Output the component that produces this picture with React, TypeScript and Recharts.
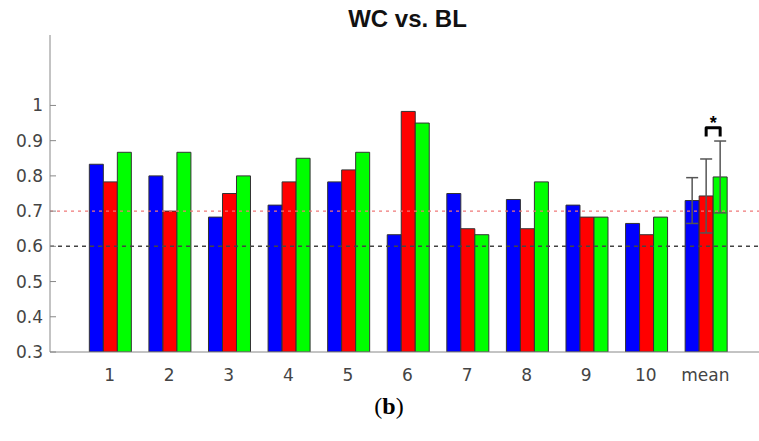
import { BarChart, Bar, XAxis, YAxis, ReferenceLine, ErrorBar, LabelList } from 'recharts'

const categories = ['1', '2', '3', '4', '5', '6', '7', '8', '9', '10', 'mean']
const blueValues = [0.833, 0.8, 0.683, 0.717, 0.783, 0.633, 0.75, 0.733, 0.717, 0.665, 0.73]
const redValues = [0.783, 0.7, 0.75, 0.783, 0.817, 0.983, 0.65, 0.65, 0.683, 0.633, 0.743]
const greenValues = [0.867, 0.867, 0.8, 0.85, 0.867, 0.95, 0.633, 0.783, 0.683, 0.683, 0.797]
const blueErr = [null, null, null, null, null, null, null, null, null, null, 0.065]
const redErr = [null, null, null, null, null, null, null, null, null, null, 0.105]
const greenErr = [null, null, null, null, null, null, null, null, null, null, 0.102]
const yTicks = [0.3, 0.4, 0.5, 0.6, 0.7, 0.8, 0.9, 1]

const Y_MIN = 0.3
const Y_MAX = 1.2
const BRACKET_TOP = 0.937
const BRACKET_FOOT = 0.912

const data = categories.map((name, i) => ({
  name,
  blue: blueValues[i],
  red: redValues[i],
  green: greenValues[i],
  blueErr: blueErr[i],
  redErr: redErr[i],
  greenErr: greenErr[i]
}))

const tickFont = { fontFamily: 'DejaVu Sans', fontSize: 17, fill: '#444' }

// significance bracket between red and green of the mean group
function SigBracket(props: any) {
  const { x, y, width, height, index } = props
  if (index !== categories.length - 1) return null
  const v = redValues[index]
  const perUnit = height / (v - Y_MIN)
  const base = y + height
  const toPx = (val: number) => base - (val - Y_MIN) * perUnit
  const x1 = x + width / 2
  const x2 = x + width * 1.5
  const top = toPx(BRACKET_TOP)
  const foot = toPx(BRACKET_FOOT)
  return (
    <g>
      <path
        d={`M${x1},${foot} L${x1},${top} L${x2},${top} L${x2},${foot}`}
        fill="none"
        stroke="#000"
        strokeWidth={3}
        strokeLinejoin="round"
      />
      <text
        x={(x1 + x2) / 2}
        y={top + 1}
        textAnchor="middle"
        fontFamily="Liberation Sans"
        fontWeight="bold"
        fontSize={18}
        fill="#000"
      >
        *
      </text>
    </g>
  )
}

export default function App() {
  return (
    <div style={{ position: 'absolute', left: 0, top: 0, width: 759, height: 441, overflow: 'hidden', background: '#fff' }}>
      <div
        style={{
          position: 'absolute',
          left: 0,
          width: 815,
          top: 5,
          textAlign: 'center',
          fontFamily: 'Liberation Sans',
          fontWeight: 'bold',
          fontSize: 24,
          color: '#111'
        }}
      >
        WC vs. BL
      </div>
      <BarChart
        width={770}
        height={441}
        data={data}
        margin={{ top: 35, right: 5, bottom: 0, left: 0 }}
        barCategoryGap="16%"
        barGap={0}
      >
        <XAxis
          dataKey="name"
          xAxisId="top"
          orientation="top"
          height={0}
          padding={{ left: 29.8, right: 29.8 }}
          axisLine={{ stroke: '#888' }}
          tickLine={{ stroke: '#888' }}
          tickSize={-6}
          tick={() => <g />}
        />
        <XAxis
          dataKey="name"
          height={89}
          padding={{ left: 29.8, right: 29.8 }}
          axisLine={{ stroke: '#888' }}
          tickLine={false}
          tickMargin={11}
          tick={tickFont}
          interval={0}
        />
        <YAxis
          width={50}
          domain={[Y_MIN, Y_MAX]}
          ticks={yTicks}
          allowDataOverflow
          axisLine={{ stroke: '#888' }}
          tickLine={{ stroke: '#888' }}
          tickSize={-6}
          tickMargin={13}
          tick={tickFont}
        />
        <Bar dataKey="blue" fill="#0000ff" stroke="#333" strokeWidth={1} isAnimationActive={false}>
          <ErrorBar dataKey="blueErr" width={6} stroke="#555" strokeWidth={1.5} />
        </Bar>
        <Bar dataKey="red" fill="#ff0000" stroke="#333" strokeWidth={1} isAnimationActive={false}>
          <ErrorBar dataKey="redErr" width={6} stroke="#555" strokeWidth={1.5} />
          <LabelList dataKey="red" content={SigBracket} />
        </Bar>
        <Bar dataKey="green" fill="#00ff00" stroke="#333" strokeWidth={1} isAnimationActive={false}>
          <ErrorBar dataKey="greenErr" width={6} stroke="#555" strokeWidth={1.5} />
        </Bar>
        <ReferenceLine y={0.7} stroke="#f07878" strokeWidth={1.2} strokeDasharray="3 4" />
        <ReferenceLine y={0.6} stroke="#444" strokeWidth={1.5} strokeDasharray="4 4" />
      </BarChart>
      <div
        style={{
          position: 'absolute',
          left: 0,
          width: 778,
          top: 393,
          textAlign: 'center',
          fontFamily: 'Liberation Serif',
          fontSize: 24,
          color: '#000'
        }}
      >
        (<b>b</b>)
      </div>
    </div>
  )
}
